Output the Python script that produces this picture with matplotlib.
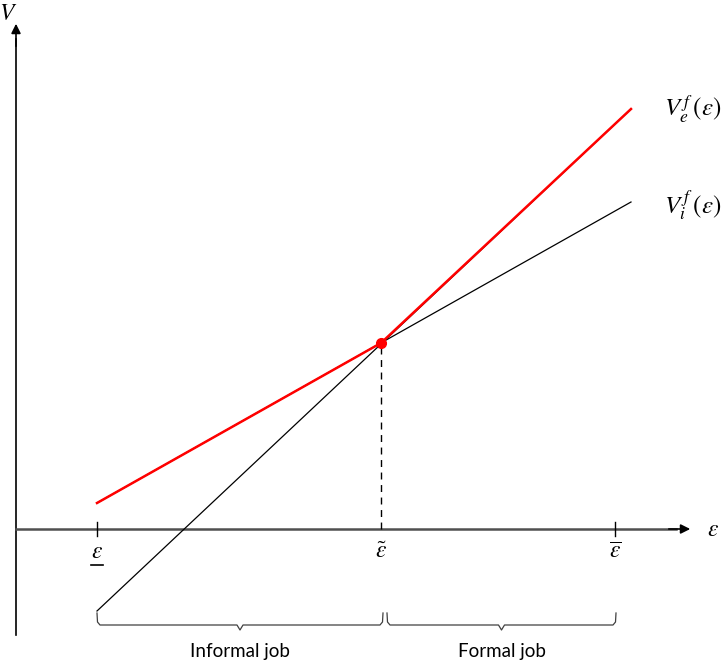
import matplotlib
matplotlib.use("Agg")
import matplotlib.pyplot as plt
import numpy as np

plt.rcParams['mathtext.fontset'] = 'stix'

# ---- data (diagram units, origin at axes intersection) ----
eps_ends = [81, 615]          # domain of the value functions
V_i = [26, 327]               # V_i^f(eps) at the domain ends
V_e = [-82, 420]              # V_e^f(eps) at the domain ends
eps_low, eps_tilde, eps_high = 81, 365, 599
V_tilde = 186
env_x = [81, 365, 615]        # upper envelope (red)
env_y = [26, 186, 420]
tick_labels = [r'$\varepsilon$', r'$\tilde{\varepsilon}$', r'$\overline{\varepsilon}$']
brace_labels = ['Informal job', 'Formal job']

W, H = 727, 671
fig = plt.figure(figsize=(W / 100, H / 100), dpi=100)
ax = fig.add_axes([0, 0, 1, 1])
ax.set_xlim(-16, W - 16)
ax.set_ylim(529 - H, 529)
ax.axis('off')

# axes
ax.plot([0, 0], [-106, 490], color='black', lw=1.2)
ax.annotate('', xy=(0, 508), xytext=(0, 480),
            arrowprops=dict(arrowstyle='-|>', color='black', lw=1.2, mutation_scale=14))
ax.plot([0, 660], [0, 0], color='#505050', lw=1.8)
ax.annotate('', xy=(677, 0), xytext=(650, 0),
            arrowprops=dict(arrowstyle='-|>', color='black', lw=1.2, mutation_scale=14))
ax.text(-8, 516, r'$V$', fontsize=17, ha='center', va='center')
ax.text(691, 0, r'$\varepsilon$', fontsize=17, ha='left', va='center')

# ticks
for xt in (eps_low, eps_high):
    ax.plot([xt, xt], [-7, 7], color='black', lw=1.0)
tick_x = [eps_low, eps_tilde, eps_high]
for xt, lab in zip(tick_x, tick_labels):
    ax.text(xt, -22, lab, fontsize=17, ha='center', va='center')
# underline for lower bound
ax.plot([eps_low - 6, eps_low + 6], [-36, -36], color='black', lw=1.2)

# value functions
ax.plot(eps_ends, V_i, color='black', lw=0.9)
ax.plot(eps_ends, V_e, color='black', lw=0.9)
ax.plot(env_x, env_y, color='#ff0000', lw=1.8, solid_joinstyle='miter')
ax.plot([eps_tilde, eps_tilde], [0, V_tilde], color='black', lw=1.0, ls=(0, (5, 4)))
ax.plot([eps_tilde], [V_tilde], 'o', color='#ff0000', ms=7)

ax.text(648, V_e[1], r'$V_e^{\,f}\,(\varepsilon)$', fontsize=18, ha='left', va='center')
ax.text(648, V_i[1] - 3, r'$V_i^{\,f}\,(\varepsilon)$', fontsize=18, ha='left', va='center')


def brace(x0, x1, y, h=12, d=5, color='#404040'):
    r = 3
    xm = (x0 + x1) / 2
    xs = [x0, x0 + 0.5, x0 + r, xm - 3, xm, xm + 3, x1 - r, x1 - 0.5, x1]
    ys = [y + h, y + r, y, y, y - d, y, y, y + r, y + h]
    ax.plot(xs, ys, color=color, lw=0.9)
    return xm


yb = 529 - 625
brace_spans = [(eps_low, eps_tilde + 2), (eps_tilde + 6, eps_high + 1)]
for (a, b), lab in zip(brace_spans, brace_labels):
    xm = brace(a, b, yb)
    ax.text(xm, yb - 27, lab, fontsize=13.5, family='Lato', ha='center', va='center')

fig.savefig('out.png', dpi=100)
